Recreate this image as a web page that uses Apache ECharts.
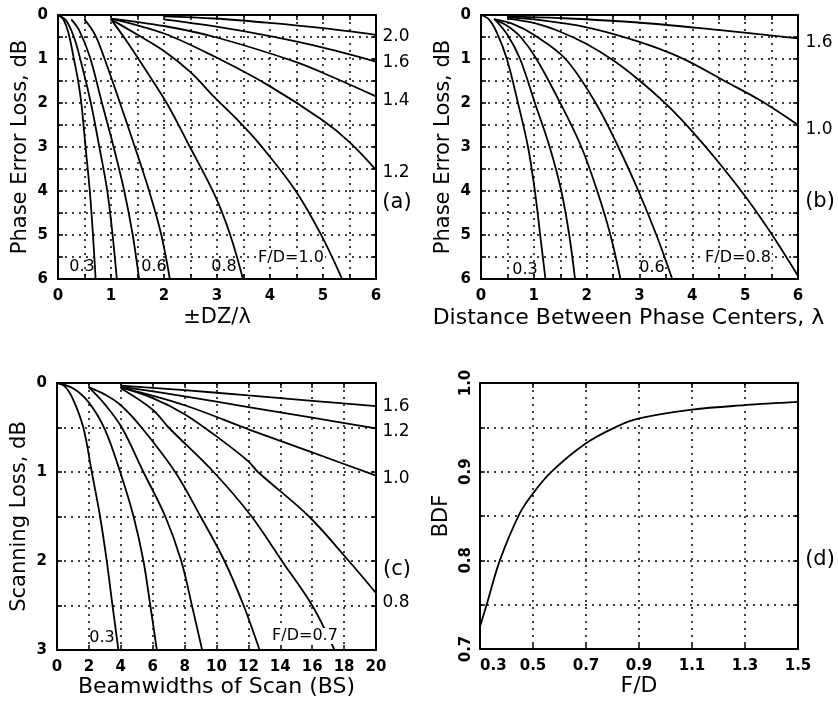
<!DOCTYPE html>
<html><head><meta charset="utf-8">
<script src="https://cdn.jsdelivr.net/npm/echarts@6/dist/echarts.min.js"></script>
<style>html,body{margin:0;padding:0;background:#fff}#c{width:838px;height:701px}</style>
</head><body><div id="c"></div>
<script>
// ---------- Panel (a): Phase Error Loss (dB) vs ±DZ/λ ----------
const a_03 = [[0,0],[0.1,0.1],[0.2,0.42],[0.3,1.0],[0.38,1.5],[0.44,2.0],[0.52,3.0],[0.6,4.0],[0.66,5.0],[0.71,6.0]];
const a_04 = [[0,0],[0.15,0.12],[0.3,0.5],[0.42,1.0],[0.62,2.0],[0.78,3.0],[0.93,4.0],[1.03,5.0],[1.11,6.0]];
const a_05 = [[0.25,0.1],[0.4,0.35],[0.6,0.95],[0.83,2.0],[1.05,3.0],[1.25,4.0],[1.41,5.0],[1.53,6.0]];
const a_06 = [[0.5,0.1],[0.7,0.45],[0.88,1.0],[1.17,2.0],[1.45,3.0],[1.72,4.0],[1.95,5.0],[2.11,6.0]];
const a_08 = [[1.0,0.1],[1.3,0.6],[1.6,1.15],[2.05,2.0],[2.49,3.0],[2.96,4.1],[3.25,5.0],[3.49,6.0]];
const a_10 = [[1.0,0.1],[1.5,0.45],[2.0,0.82],[2.5,1.3],[2.96,1.88],[3.4,2.4],[3.78,2.9],[4.47,3.97],[4.98,5.03],[5.36,6.0]];
const a_12 = [[1.0,0.08],[2.0,0.42],[2.96,0.95],[3.97,1.6],[5.0,2.4],[5.51,2.9],[6,3.52]];
const a_14 = [[1.0,0.08],[2.0,0.25],[2.96,0.5],[4.47,1.06],[5.2,1.42],[6,1.85]];
const a_16 = [[2.0,0.1],[2.96,0.26],[4.0,0.48],[5.0,0.74],[6,1.06]];
const a_20 = [[2.0,0.03],[2.96,0.08],[4.0,0.18],[5.0,0.3],[6,0.45]];

// ---------- Panel (b): Phase Error Loss (dB) vs distance between phase centers ----------
const b_03 = [[0,0],[0.15,0.1],[0.3,0.4],[0.49,1.0],[0.7,2.0],[0.89,3.0],[1.02,4.0],[1.12,5.0],[1.22,6.0]];
const b_04 = [[0.25,0.08],[0.5,0.45],[0.74,1.0],[1.02,2.0],[1.3,3.0],[1.52,4.0],[1.67,5.0],[1.78,6.0]];
const b_05 = [[0.25,0.1],[0.5,0.25],[0.75,0.5],[1.05,1.0],[1.5,2.0],[1.9,3.0],[2.2,4.0],[2.45,5.0],[2.64,6.0]];
const b_06 = [[0.25,0.1],[0.6,0.2],[1.0,0.45],[1.6,1.0],[2.17,2.0],[2.6,3.0],[2.98,4.0],[3.32,5.0],[3.62,6.0]];
const b_08 = [[0.5,0.08],[1.0,0.18],[1.5,0.38],[2.0,0.66],[2.5,1.03],[2.97,1.46],[3.5,2.02],[3.98,2.62],[4.52,3.38],[5.05,4.2],[5.5,4.98],[6,5.93]];
const b_10 = [[0.5,0.06],[1.0,0.1],[2.0,0.28],[2.97,0.6],[3.8,0.98],[4.61,1.5],[5.3,1.95],[6,2.5]];
const b_16 = [[0.5,0.03],[1.5,0.07],[2.97,0.17],[4.48,0.34],[6,0.53]];

// ---------- Panel (c): Scanning Loss (dB) vs Beamwidths of Scan ----------
const c_03 = [[0,0],[0.5,0.04],[1.0,0.18],[1.65,0.5],[2.18,1.0],[2.7,1.5],[3.12,2.0],[3.48,2.5],[3.85,3.0]];
const c_04 = [[0,0],[1.0,0.06],[2.0,0.22],[3.0,0.52],[3.96,1.0],[4.8,1.5],[5.42,2.0],[5.85,2.5],[6.26,3.0]];
const c_05 = [[2,0.05],[3,0.24],[4.06,0.5],[5.42,1.0],[6.79,1.5],[7.79,2.0],[8.46,2.5],[9.1,3.0]];
const c_06 = [[2,0.05],[3,0.13],[4,0.25],[5.3,0.5],[7.41,1.0],[9.0,1.5],[10.5,2.0],[11.7,2.5],[12.7,3.0]];
const c_07 = [[4,0.06],[6,0.3],[7,0.5],[9.82,1.0],[12.2,1.5],[14.1,2.0],[16.0,2.5],[17.4,3.0]];
const c_08 = [[4,0.05],[6,0.17],[8,0.35],[10,0.6],[12,0.88],[12.6,1.0],[15.8,1.5],[18.3,2.0],[20,2.36]];
const c_10 = [[4,0.05],[8,0.25],[12,0.52],[16,0.78],[20,1.04]];
const c_12 = [[4,0.04],[8,0.15],[12,0.27],[16,0.39],[20,0.51]];
const c_16 = [[4,0.03],[8,0.08],[12,0.14],[16,0.2],[20,0.26]];

// ---------- Panel (d): BDF vs F/D ----------
const d_fd  = [0.3, 0.325, 0.375, 0.45, 0.5, 0.57, 0.7, 0.81, 0.9, 1.1, 1.3, 1.5];
const d_bdf = [0.7255, 0.75, 0.80, 0.853, 0.8755, 0.90, 0.932, 0.95, 0.96, 0.97, 0.975, 0.9786];

const FONT = 'DejaVu Sans';
const black = '#000';

const grids = [
  {left:58, top:15, width:318, height:264},
  {left:481, top:15, width:317, height:264},
  {left:57, top:383, width:319, height:267},
  {left:480, top:383, width:318, height:266}
];

const intFmt = v => (Math.abs(v - Math.round(v)) < 1e-6 ? String(Math.round(v)) : '');
const tenthFmt = v => (Math.abs(v*10 - Math.round(v*10)) < 1e-6 ? v.toFixed(1) : '');

function axisPair(kind, gi, cfg) {
  const base = {
    gridIndex: gi, type:'value', min: cfg.min, max: cfg.max, interval: cfg.interval,
    inverse: !!cfg.inverse,
    axisLine: {show:true, onZero:false, lineStyle:{color:black, width:2}},
    axisTick: {show:true, inside:true, length:5, lineStyle:{color:black, width:1.5}},
  };
  const main = Object.assign({}, base, {
    position: kind === 'x' ? 'bottom' : 'left',
    name: cfg.name, nameLocation:'middle', nameGap: cfg.nameGap,
    nameRotate: kind === 'y' ? 90 : 0,
    nameTextStyle: {fontFamily: FONT, fontSize: cfg.nameSize, color: black, padding: cfg.namePad || 0},
    axisLabel: Object.assign({show:true, color:black, fontFamily:FONT, fontWeight:'bold', fontSize:15,
      margin: cfg.margin || 8, formatter: cfg.fmt, rotate: cfg.rotate || 0}, cfg.labelExtra || {}),
    splitLine: {show:true, lineStyle:{color:black, width:1.5, type:[2,5]}}
  });
  const other = Object.assign({}, base, {
    position: kind === 'x' ? 'top' : 'right',
    axisLabel: {show:false}, splitLine: {show:false}
  });
  return [main, other];
}

const xAxes = [].concat(
  axisPair('x', 0, {min:0, max:6, interval:0.5, fmt:intFmt, name:'±DZ/λ', nameGap:28, nameSize:21, margin:10}),
  axisPair('x', 1, {min:0, max:6, interval:0.5, fmt:intFmt, name:'Distance Between Phase Centers, λ', nameGap:28, nameSize:22, margin:10,
     namePad:[0,22,0,0]}),
  axisPair('x', 2, {min:0, max:20, interval:2, fmt:intFmt, name:'Beamwidths of Scan (BS)', nameGap:18, nameSize:22, margin:10}),
  axisPair('x', 3, {min:0.3, max:1.5, interval:0.2, fmt:v=>v.toFixed(1), name:'F/D', nameGap:18, nameSize:22, margin:10,
     labelExtra:{alignMinLabel:'left'}})
);
const yAxes = [].concat(
  axisPair('y', 0, {min:0, max:6, interval:0.5, inverse:true, fmt:intFmt, name:'Phase Error Loss, dB', nameGap:27, nameSize:21, margin:10}),
  axisPair('y', 1, {min:0, max:6, interval:0.5, inverse:true, fmt:intFmt, name:'Phase Error Loss, dB', nameGap:27, nameSize:21, margin:10}),
  axisPair('y', 2, {min:0, max:3, interval:0.5, inverse:true, fmt:intFmt, name:'Scanning Loss, dB', nameGap:27, nameSize:21, margin:10}),
  axisPair('y', 3, {min:0.7, max:1.0, interval:0.05, fmt:tenthFmt, name:'BDF', nameGap:28, nameSize:21, margin:6, rotate:90})
);

function ln(data, gi) {
  return {type:'line', data:data, xAxisIndex:2*gi, yAxisIndex:2*gi, showSymbol:false, symbol:'none',
    smooth:0.35, lineStyle:{color:black, width:1.8}, silent:true};
}
const series = [
  ...[a_03,a_04,a_05,a_06,a_08,a_10,a_12,a_14,a_16,a_20].map(d=>ln(d,0)),
  ...[b_03,b_04,b_05,b_06,b_08,b_10,b_16].map(d=>ln(d,1)),
  ...[c_03,c_04,c_05,c_06,c_07,c_08,c_10,c_12,c_16].map(d=>ln(d,2)),
  ln(d_fd.map((v,i)=>[v, d_bdf[i]]), 3)
];

function txt(x, y, s, size, opts) {
  return Object.assign({type:'text', x:x, y:y, z:100, style:Object.assign({text:s, fill:black,
    font: (size||17)+'px "'+FONT+'"', textAlign:'center', textVerticalAlign:'middle'}, (opts||{}))});
}
const wbg = {backgroundColor:'#fff', padding:[0,1]};
const graphic = [
  // panel a right labels
  txt(396, 37, '2.0'), txt(396, 63, '1.6'), txt(396, 101, '1.4'), txt(396, 173, '1.2'),
  txt(397, 203, '(a)', 21),
  // panel a bottom labels
  txt(82, 267, '0.3', 16), txt(154, 267, '0.6', 16), txt(224, 267, '0.8', 16),
  txt(291, 258, 'F/D=1.0', 16, wbg),
  // panel b
  txt(819, 43, '1.6'), txt(819, 130, '1.0'), txt(820, 202, '(b)', 21),
  txt(525, 270, '0.3', 16), txt(652, 268, '0.6', 16), txt(738, 258, 'F/D=0.8', 16, wbg),
  // panel c
  txt(396, 407, '1.6'), txt(396, 432, '1.2'), txt(396, 479, '1.0'), txt(397, 570, '(c)', 21),
  txt(396, 603, '0.8'),
  txt(102, 638, '0.3', 16), txt(305, 636, 'F/D=0.7', 16, wbg),
  // panel d
  txt(820, 560, '(d)', 21)
];

const chart = echarts.init(document.getElementById('c'), null, {renderer:'canvas'});
chart.setOption({animation:false, backgroundColor:'#fff', grid:grids, xAxis:xAxes, yAxis:yAxes, series:series, graphic:graphic});
</script></body></html>
